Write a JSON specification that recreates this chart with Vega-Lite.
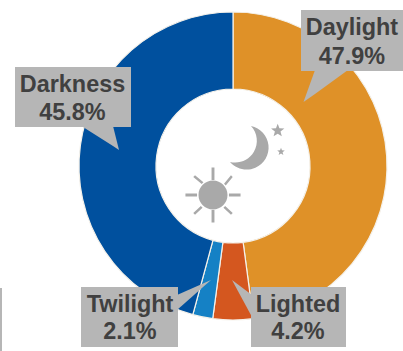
{"$schema":"https://vega.github.io/schema/vega-lite/v6.json","width":308,"height":308,"padding":{"left":79,"top":12,"right":16,"bottom":31},"autosize":"none","background":"white","view":{"stroke":null},
"layer":[
{"data":{"values":[{"segment":"Daylight","share":47.9,"i":1},{"segment":"Lighted","share":4.2,"i":2},{"segment":"Twilight","share":2.1,"i":3},{"segment":"Darkness","share":45.8,"i":4}]},
"mark":{"type":"arc","outerRadius":154,"innerRadius":77,"stroke":"#f4f1ea","strokeWidth":1.2},
"encoding":{"theta":{"field":"share","type":"quantitative","stack":true,"scale":{"domain":[0,100]}},"order":{"field":"i","type":"ordinal"},"color":{"field":"segment","type":"nominal","legend":null,"scale":{"domain":["Daylight","Lighted","Twilight","Darkness"],"range":["#DF9128","#D4571F","#1581C5","#00509E"]}}}},
{"data":{"values":[{"x":301,"x2":403,"y":10,"y2":71},{"x":15,"x2":131,"y":67,"y2":127},{"x":81,"x2":178,"y":287,"y2":347},{"x":251,"x2":346,"y":287,"y2":347},{"x":0,"x2":2,"y":288,"y2":351}]},
"mark":{"type":"rect","fill":"#B6B6B6"},
"encoding":{"x":{"field":"x","type":"quantitative","scale":{"domain":[79,387],"range":[0,308]},"axis":null},"y":{"field":"y","type":"quantitative","scale":{"domain":[12,320],"range":[0,308]},"axis":null},"x2":{"field":"x2"},"y2":{"field":"y2"}}},
{"data":{"values":[{"c":"Daylight","x":303.5,"y":102,"y2":102},{"c":"Daylight","x":315,"y":70,"y2":94},{"c":"Daylight","x":348,"y":70,"y2":70},
{"c":"Darkness","x":83,"y":126,"y2":127},{"c":"Darkness","x":113,"y":126,"y2":146},{"c":"Darkness","x":119,"y":150,"y2":150},
{"c":"Twilight","x":177,"y":295,"y2":310},{"c":"Twilight","x":211,"y":280,"y2":280},
{"c":"Lighted","x":232,"y":280,"y2":280},{"c":"Lighted","x":252,"y":295,"y2":317}]},
"mark":{"type":"area","fill":"#B6B6B6","interpolate":"linear","orient":"vertical"},
"encoding":{"x":{"field":"x","type":"quantitative","scale":{"domain":[79,387],"range":[0,308]},"axis":null},"y":{"field":"y","type":"quantitative","scale":{"domain":[12,320],"range":[0,308]},"axis":null,"stack":null},"y2":{"field":"y2"},"detail":{"field":"c"}}},
{"data":{"values":[{"text":"Daylight","x":352,"y":28},{"text":"47.9%","x":352,"y":57},{"text":"Darkness","x":72.5,"y":85},{"text":"45.8%","x":72.5,"y":113},{"text":"Twilight","x":130,"y":305},{"text":"2.1%","x":130,"y":332},{"text":"Lighted","x":298,"y":305},{"text":"4.2%","x":298,"y":332}]},
"mark":{"type":"text","font":"Liberation Sans","fontWeight":"bold","fontSize":23.4,"fill":"#404040","align":"center","baseline":"middle"},
"encoding":{"x":{"field":"x","type":"quantitative","scale":{"domain":[79,387],"range":[0,308]},"axis":null},"y":{"field":"y","type":"quantitative","scale":{"domain":[12,320],"range":[0,308]},"axis":null},"text":{"field":"text"}}},
{"data":{"values":[{"x":213,"y":195}]},
"mark":{"type":"point","filled":true,"opacity":1,"fill":"#A9A9A9","size":3364,"shape":"M0.5,0A0.5,0.5 0 1 1 -0.5,0A0.5,0.5 0 1 1 0.5,0Z M-0.95,-0.05H-0.55V0.05H-0.95Z M0.55,-0.05H0.95V0.05H0.55Z M-0.05,-0.95H0.05V-0.52H-0.05Z M-0.05,0.52H0.05V0.95H-0.05Z M-0.68,-0.62L-0.62,-0.68L-0.33,-0.44L-0.39,-0.38Z M0.62,-0.68L0.68,-0.62L0.44,-0.33L0.38,-0.39Z M-0.68,0.62L-0.62,0.68L-0.36,0.44L-0.42,0.38Z M0.68,0.62L0.62,0.68L0.36,0.44L0.42,0.38Z"},
"encoding":{"x":{"field":"x","type":"quantitative","scale":{"domain":[79,387],"range":[0,308]},"axis":null},"y":{"field":"y","type":"quantitative","scale":{"domain":[12,320],"range":[0,308]},"axis":null}}},
{"data":{"values":[{"x":250,"y":145}]},
"mark":{"type":"point","filled":true,"opacity":1,"fill":"#A9A9A9","size":2500,"shape":"M0.04,-0.76A0.88,0.88 0 1 1 -0.8,0.68A0.87,0.87 0 0 0 0.04,-0.76Z"},
"encoding":{"x":{"field":"x","type":"quantitative","scale":{"domain":[79,387],"range":[0,308]},"axis":null},"y":{"field":"y","type":"quantitative","scale":{"domain":[12,320],"range":[0,308]},"axis":null}}},
{"data":{"values":[{"x":277.7,"y":130.7}]},
"mark":{"type":"point","filled":true,"opacity":1,"fill":"#A9A9A9","size":196,"shape":"M0,-1L0.247,-0.34L0.951,-0.309L0.4,0.13L0.588,0.809L0,0.42L-0.588,0.809L-0.4,0.13L-0.951,-0.309L-0.247,-0.34Z"},
"encoding":{"x":{"field":"x","type":"quantitative","scale":{"domain":[79,387],"range":[0,308]},"axis":null},"y":{"field":"y","type":"quantitative","scale":{"domain":[12,320],"range":[0,308]},"axis":null}}},
{"data":{"values":[{"x":281,"y":151.7}]},
"mark":{"type":"point","filled":true,"opacity":1,"fill":"#A9A9A9","size":64,"shape":"M0,-1L0.247,-0.34L0.951,-0.309L0.4,0.13L0.588,0.809L0,0.42L-0.588,0.809L-0.4,0.13L-0.951,-0.309L-0.247,-0.34Z"},
"encoding":{"x":{"field":"x","type":"quantitative","scale":{"domain":[79,387],"range":[0,308]},"axis":null},"y":{"field":"y","type":"quantitative","scale":{"domain":[12,320],"range":[0,308]},"axis":null}}}
]}
